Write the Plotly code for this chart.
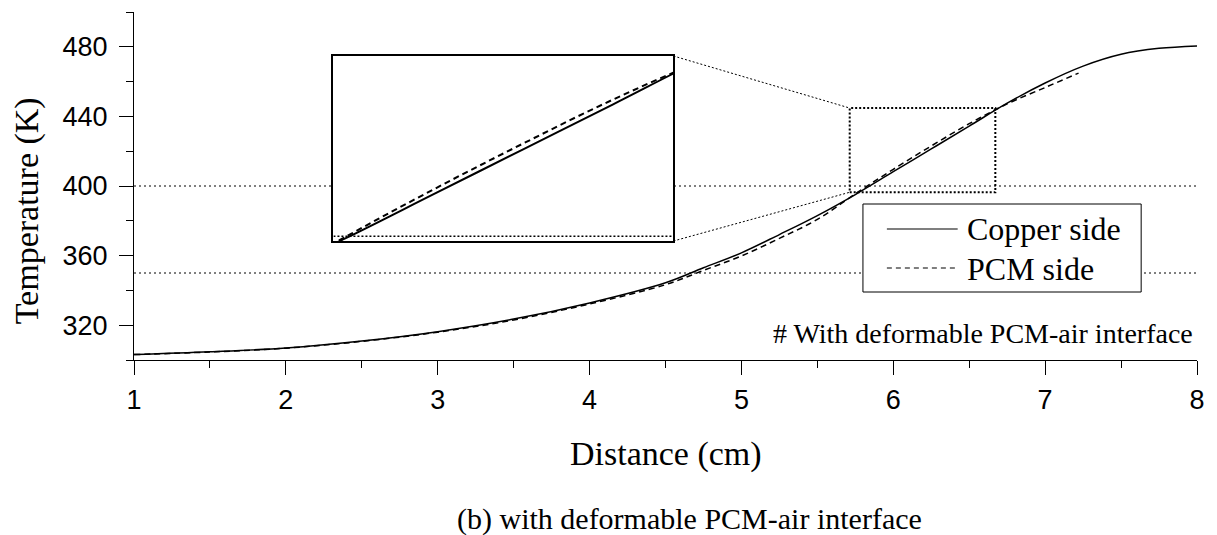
import plotly.graph_objects as go

# ---------------- data ----------------
copper_x = [1.0, 1.5, 2.0, 2.5, 3.0, 3.5, 4.0, 4.5, 4.75, 5.0, 5.25, 5.5, 5.75,
            6.0, 6.25, 6.5, 6.75, 7.0, 7.25, 7.5, 7.75, 8.0]
copper_y = [303.1, 304.7, 306.9, 310.9, 316.3, 323.5, 332.8, 344.4, 353.0, 361.6,
            372.1, 383.0, 395.1, 408.2, 421.3, 434.4, 447.6, 459.2, 468.9, 475.7,
            479.1, 480.5]

pcm_x = [1.0, 1.5, 2.0, 2.5, 3.0, 3.5, 4.0, 4.5, 4.75, 5.0, 5.25, 5.5, 5.75,
         6.0, 6.25, 6.5, 6.75, 7.0, 7.22]
pcm_y = [303.1, 304.6, 306.8, 310.7, 316.0, 323.0, 332.2, 343.3, 351.5, 359.8,
         369.9, 380.8, 395.5, 409.6, 423.0, 435.8, 447.2, 456.6, 464.9]

ref_levels = [350, 400]          # dotted reference temperatures (K)
zoom_x = [5.713, 6.672]          # zoomed region (cm)
zoom_y = [396.4, 444.8]          # zoomed region (K)
inset_x = [5.72, 6.67]
inset_y = [394.5, 448.6]

x_range = [1, 8]
y_range = [300, 500]
y_ticks = [320, 360, 400, 440, 480]
x_ticks = [1, 2, 3, 4, 5, 6, 7, 8]

# ---------------- layout geometry ----------------
W, H = 1217, 535
ML, MR, MT, MB = 134, 17, 12, 175
PW, PH = W - ML - MR, H - MT - MB


def px(xpix):
    return (xpix - ML) / PW


def py(ypix):
    return (H - MB - ypix) / PH


def dx(v):
    return (v - x_range[0]) / (x_range[1] - x_range[0])


def dy(v):
    return (v - y_range[0]) / (y_range[1] - y_range[0])


SERIF = "Liberation Serif, Times New Roman, serif"
SANS = "Liberation Sans, Arial, sans-serif"

inset_dom_x = [px(334), px(675)]
inset_dom_y = [py(241), py(56)]

fig = go.Figure()

# main curves
fig.add_trace(go.Scatter(x=copper_x, y=copper_y, mode="lines", name="Copper side",
                         line=dict(color="black", width=1.5, shape="spline"),
                         showlegend=False, xaxis="x", yaxis="y"))
fig.add_trace(go.Scatter(x=pcm_x, y=pcm_y, mode="lines", name="PCM side",
                         line=dict(color="black", width=1.5, dash="6px,4px", shape="spline"),
                         showlegend=False, xaxis="x", yaxis="y"))
# inset curves
fig.add_trace(go.Scatter(x=copper_x, y=copper_y, mode="lines", name="Copper side",
                         line=dict(color="black", width=2, shape="spline"),
                         showlegend=False, xaxis="x2", yaxis="y2"))
fig.add_trace(go.Scatter(x=pcm_x, y=pcm_y, mode="lines", name="PCM side",
                         line=dict(color="black", width=2, dash="6px,4px", shape="spline"),
                         showlegend=False, xaxis="x2", yaxis="y2"))

shapes = []
for lvl in ref_levels:
    shapes.append(dict(type="line", xref="x", yref="y", x0=x_range[0], x1=x_range[1],
                       y0=lvl, y1=lvl, layer="below",
                       line=dict(color="black", width=1, dash="2px,3px")))
# zoom rectangle on main plot
shapes.append(dict(type="rect", xref="x", yref="y", x0=zoom_x[0], x1=zoom_x[1],
                   y0=zoom_y[0], y1=zoom_y[1], layer="above",
                   line=dict(color="black", width=2, dash="2px,2px")))
# connectors from inset corners to zoom rectangle
shapes.append(dict(type="line", xref="paper", yref="paper",
                   x0=inset_dom_x[1], y0=inset_dom_y[1],
                   x1=dx(zoom_x[0]), y1=dy(zoom_y[1]),
                   line=dict(color="black", width=1, dash="2px,2px")))
shapes.append(dict(type="line", xref="paper", yref="paper",
                   x0=inset_dom_x[1], y0=inset_dom_y[0],
                   x1=dx(zoom_x[0]), y1=dy(zoom_y[0]),
                   line=dict(color="black", width=1, dash="2px,2px")))
# dotted line inside inset (bottom of zoom region)
shapes.append(dict(type="line", xref="x2", yref="y2", x0=inset_x[0], x1=inset_x[1],
                   y0=zoom_y[0] - 0.5, y1=zoom_y[0] - 0.5, layer="above",
                   line=dict(color="black", width=1.5, dash="2px,2px")))
# custom legend
shapes.append(dict(type="rect", xref="paper", yref="paper",
                   x0=px(865), x1=px(1144), y0=py(292), y1=py(204),
                   fillcolor="white", layer="above",
                   line=dict(color="black", width=1)))
shapes.append(dict(type="line", xref="paper", yref="paper",
                   x0=px(889), x1=px(960), y0=py(229), y1=py(229),
                   line=dict(color="black", width=1.2)))
shapes.append(dict(type="line", xref="paper", yref="paper",
                   x0=px(889), x1=px(960), y0=py(268), y1=py(268),
                   line=dict(color="black", width=1.2, dash="5px,4px")))

annotations = [
    dict(text="Copper side", xref="paper", yref="paper", x=px(967), y=py(229),
         xanchor="left", yanchor="middle", showarrow=False,
         font=dict(family=SERIF, size=32, color="black")),
    dict(text="PCM side", xref="paper", yref="paper", x=px(967), y=py(269),
         xanchor="left", yanchor="middle", showarrow=False,
         font=dict(family=SERIF, size=32, color="black")),
    dict(text="# With deformable PCM-air interface", xref="paper", yref="paper",
         x=px(1198), y=py(333), xanchor="right", yanchor="middle", showarrow=False,
         font=dict(family=SERIF, size=28, color="black")),
    dict(text="Temperature (K)", xref="paper", yref="paper", x=px(27), y=py(211),
         xanchor="center", yanchor="middle", textangle=-90, showarrow=False,
         font=dict(family=SERIF, size=34, color="black")),
    dict(text="Distance (cm)", xref="paper", yref="paper", x=px(667), y=py(454),
         xanchor="center", yanchor="middle", showarrow=False,
         font=dict(family=SERIF, size=34, color="black")),
    dict(text="(b) with deformable PCM-air interface", xref="paper", yref="paper",
         x=px(456), y=py(519), xanchor="left", yanchor="middle", showarrow=False,
         font=dict(family=SERIF, size=30, color="black")),
]

fig.update_layout(
    width=W, height=H,
    margin=dict(l=ML, r=MR, t=MT, b=MB, pad=0),
    paper_bgcolor="white", plot_bgcolor="white",
    showlegend=False,
    shapes=shapes, annotations=annotations,
    xaxis=dict(range=x_range, tickvals=x_ticks, showgrid=False, zeroline=False,
               showline=True, linecolor="black", linewidth=1,
               ticks="outside", ticklen=14, tickwidth=1, tickcolor="black",
               minor=dict(dtick=0.5, tick0=1, ticks="outside", ticklen=7,
                          tickwidth=1, tickcolor="black"),
               tickfont=dict(family=SANS, size=27, color="black"),
               ticklabelstandoff=2),
    yaxis=dict(range=y_range, tickvals=y_ticks, showgrid=False, zeroline=False,
               showline=True, linecolor="black", linewidth=1,
               ticks="outside", ticklen=14, tickwidth=1, tickcolor="black",
               minor=dict(dtick=20, tick0=300, ticks="outside", ticklen=7,
                          tickwidth=1, tickcolor="black"),
               tickfont=dict(family=SANS, size=27, color="black"),
               ticklabelstandoff=6),
    xaxis2=dict(domain=inset_dom_x, anchor="y2", range=inset_x, showgrid=False,
                zeroline=False, showline=True, mirror=True, linecolor="black",
                linewidth=2, showticklabels=False, ticks=""),
    yaxis2=dict(domain=inset_dom_y, anchor="x2", range=inset_y, showgrid=False,
                zeroline=False, showline=True, mirror=True, linecolor="black",
                linewidth=2, showticklabels=False, ticks=""),
)

fig.write_html("out.html")
